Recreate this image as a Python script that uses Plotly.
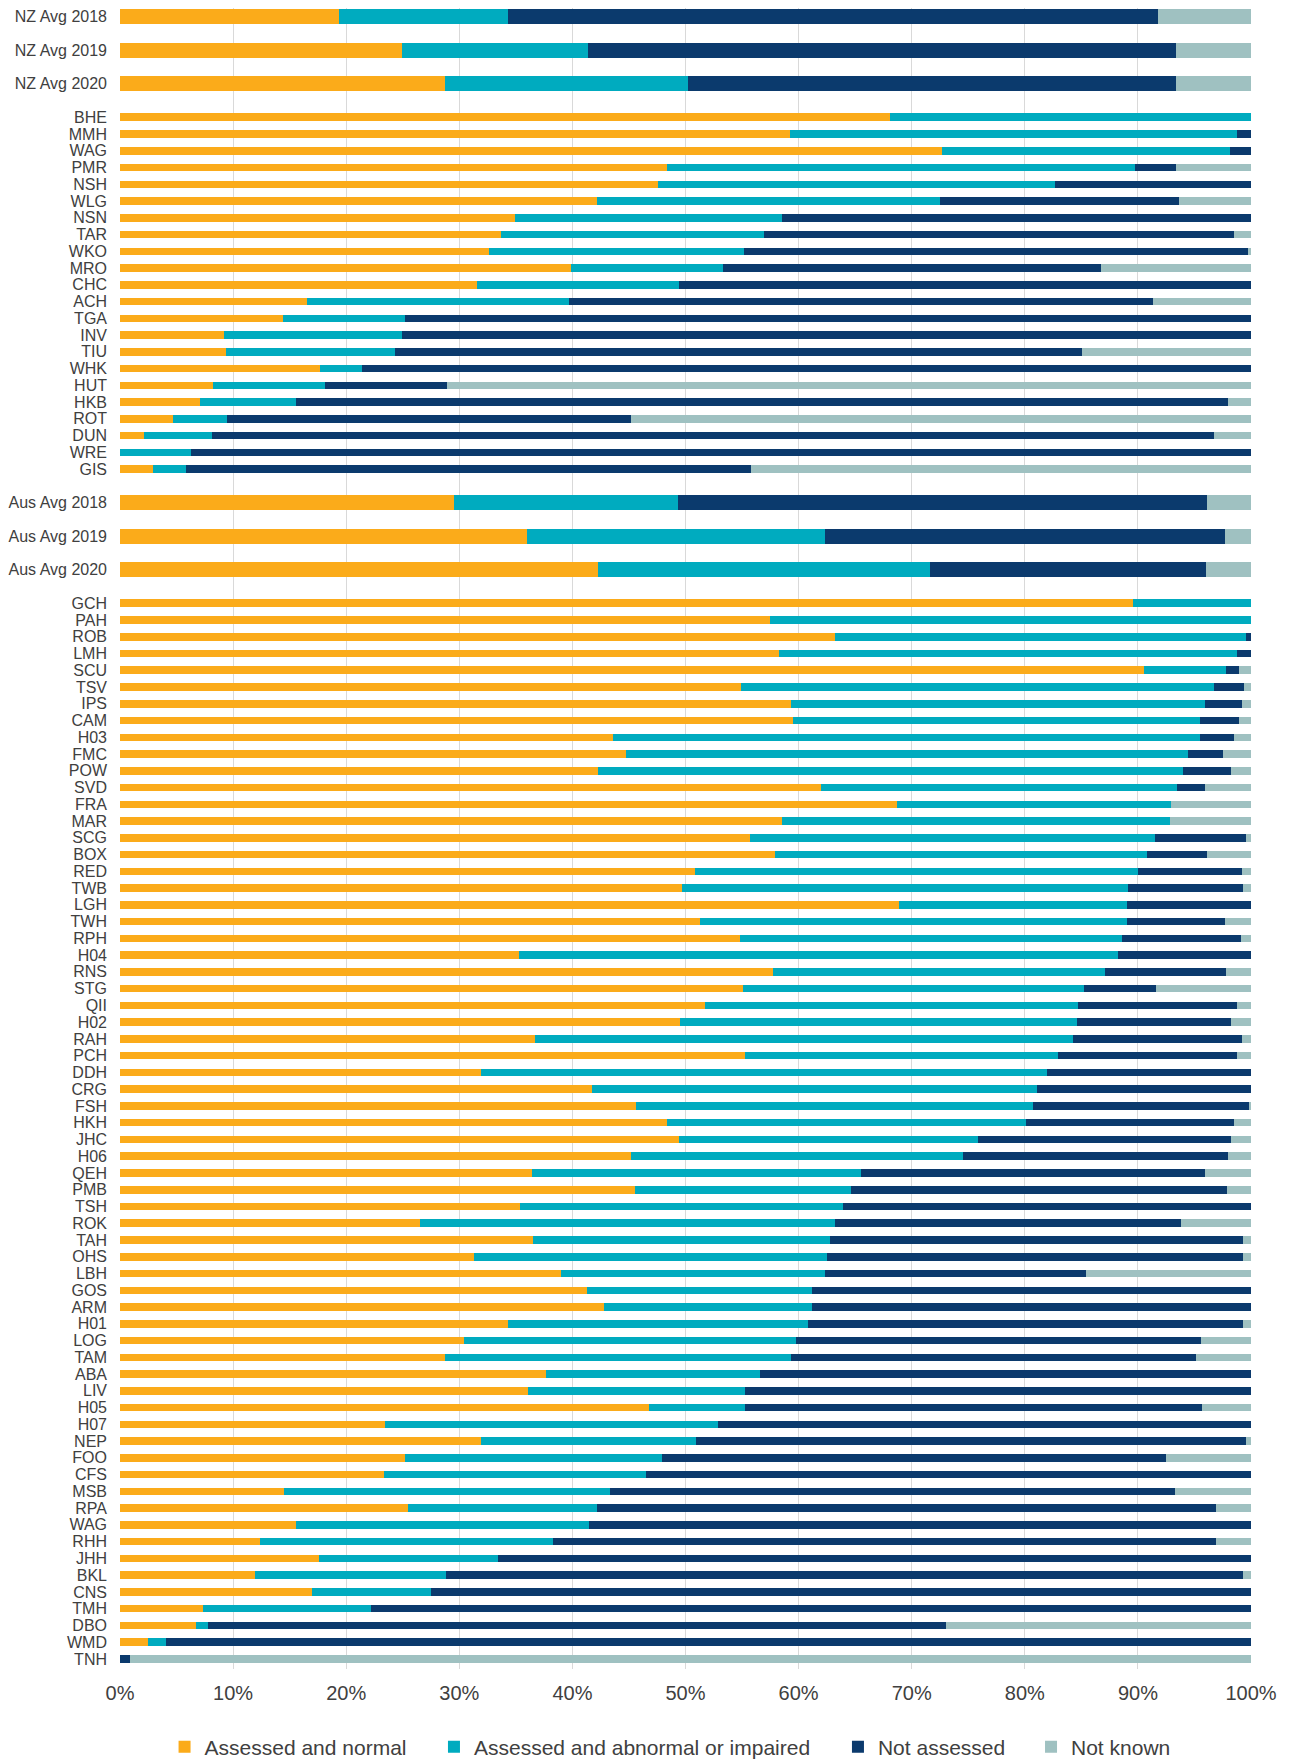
import plotly.graph_objects as go

# ---- data (percent of patients) ----
categories = [
    "NZ Avg 2018", "NZ Avg 2019", "NZ Avg 2020",
    "BHE", "MMH", "WAG", "PMR", "NSH", "WLG", "NSN", "TAR", "WKO", "MRO", "CHC",
    "ACH", "TGA", "INV", "TIU", "WHK", "HUT", "HKB", "ROT", "DUN", "WRE", "GIS",
    "Aus Avg 2018", "Aus Avg 2019", "Aus Avg 2020",
    "GCH", "PAH", "ROB", "LMH", "SCU", "TSV", "IPS", "CAM", "H03", "FMC", "POW",
    "SVD", "FRA", "MAR", "SCG", "BOX", "RED", "TWB", "LGH", "TWH", "RPH", "H04",
    "RNS", "STG", "QII", "H02", "RAH", "PCH", "DDH", "CRG", "FSH", "HKH", "JHC",
    "H06", "QEH", "PMB", "TSH", "ROK", "TAH", "OHS", "LBH", "GOS", "ARM", "H01",
    "LOG", "TAM", "ABA", "LIV", "H05", "H07", "NEP", "FOO", "CFS", "MSB", "RPA",
    "WAG", "RHH", "JHH", "BKL", "CNS", "TMH", "DBO", "WMD", "TNH",
]

assessed_normal = [
    19.4, 24.9, 28.7,
    68.1, 59.2, 72.7, 48.4, 47.6, 42.2, 34.9, 33.7, 32.6, 39.9, 31.6,
    16.5, 14.4, 9.2, 9.4, 17.7, 8.2, 7.1, 4.7, 2.1, 0.0, 2.9,
    29.5, 36.0, 42.3,
    89.6, 57.5, 63.2, 58.3, 90.5, 54.9, 59.3, 59.5, 43.6, 44.7, 42.3,
    62.0, 68.7, 58.5, 55.7, 57.9, 50.8, 49.7, 68.9, 51.3, 54.8, 35.3,
    57.7, 55.1, 51.7, 49.5, 36.7, 55.3, 31.9, 41.7, 45.6, 48.4, 49.4,
    45.2, 36.4, 45.5, 35.4, 26.5, 36.5, 31.3, 39.0, 41.3, 42.8, 34.3,
    30.4, 28.7, 37.7, 36.1, 46.8, 23.4, 31.9, 25.2, 23.3, 14.5, 25.5,
    15.6, 12.4, 17.6, 11.9, 17.0, 7.3, 6.7, 2.5, 0.0,
]

assessed_abnormal = [
    14.9, 16.5, 21.5,
    31.9, 39.6, 25.4, 41.3, 35.1, 30.3, 23.6, 23.2, 22.6, 13.4, 17.8,
    23.2, 10.8, 15.7, 14.9, 3.7, 9.9, 8.5, 4.8, 6.0, 6.3, 2.9,
    19.8, 26.3, 29.3,
    10.4, 42.5, 36.4, 40.5, 7.3, 41.8, 36.6, 36.0, 51.9, 49.7, 51.7,
    31.5, 24.2, 34.3, 35.8, 32.9, 39.2, 39.4, 20.1, 37.7, 33.8, 52.9,
    29.4, 30.1, 33.0, 35.1, 47.6, 27.6, 50.1, 39.4, 35.1, 31.7, 26.5,
    29.3, 29.1, 19.1, 28.5, 36.7, 26.3, 31.2, 23.3, 19.9, 18.4, 26.5,
    29.4, 30.6, 18.9, 19.2, 8.5, 29.5, 19.0, 22.7, 23.2, 28.8, 16.7,
    25.9, 25.9, 15.8, 16.9, 10.5, 14.9, 1.1, 1.6, 0.0,
]

not_assessed = [
    57.5, 52.0, 43.2,
    0.0, 1.2, 1.9, 3.7, 17.3, 21.1, 41.5, 41.6, 44.5, 33.4, 50.6,
    51.6, 74.8, 75.1, 60.8, 78.6, 10.8, 82.4, 35.7, 88.6, 93.7, 50.0,
    46.8, 35.4, 24.4,
    0.0, 0.0, 0.4, 1.2, 1.1, 2.7, 3.3, 3.4, 3.0, 3.1, 4.2,
    2.4, 0.0, 0.0, 8.1, 5.3, 9.2, 10.2, 11.0, 8.7, 10.5, 11.8,
    10.7, 6.4, 14.1, 13.6, 14.9, 15.9, 18.0, 18.9, 19.1, 18.4, 22.3,
    23.5, 30.4, 33.3, 36.1, 30.6, 36.5, 36.8, 23.1, 38.8, 38.8, 38.5,
    35.8, 35.8, 43.4, 44.7, 40.4, 47.1, 48.7, 44.6, 53.5, 50.0, 54.7,
    58.5, 58.6, 66.6, 70.5, 72.5, 77.8, 65.2, 95.9, 0.9,
]

not_known = [
    8.2, 6.6, 6.6,
    0.0, 0.0, 0.0, 6.6, 0.0, 6.4, 0.0, 1.5, 0.3, 13.3, 0.0,
    8.7, 0.0, 0.0, 14.9, 0.0, 71.1, 2.0, 54.8, 3.3, 0.0, 44.2,
    3.9, 2.3, 4.0,
    0.0, 0.0, 0.0, 0.0, 1.1, 0.6, 0.8, 1.1, 1.5, 2.5, 1.8,
    4.1, 7.1, 7.2, 0.4, 3.9, 0.8, 0.7, 0.0, 2.3, 0.9, 0.0,
    2.2, 8.4, 1.2, 1.8, 0.8, 1.2, 0.0, 0.0, 0.2, 1.5, 1.8,
    2.0, 4.1, 2.1, 0.0, 6.2, 0.7, 0.7, 14.6, 0.0, 0.0, 0.7,
    4.4, 4.9, 0.0, 0.0, 4.3, 0.0, 0.4, 7.5, 0.0, 6.7, 3.1,
    0.0, 3.1, 0.0, 0.7, 0.0, 0.0, 27.0, 0.0, 99.1,
]

series_names = ["Assessed and normal", "Assessed and abnormal or impaired",
                "Not assessed", "Not known"]
series_colors = ["#FBAB1A", "#00ABBF", "#0B3A6D", "#9FC1C1"]

x_tick_values = list(range(0, 101, 10))
x_tick_labels = [f"{v}%" for v in x_tick_values]

# ---- row positions: averages take double spacing and thicker bars ----
is_avg = ["Avg" in c for c in categories]
positions = []
pos = 0
for i, avg in enumerate(is_avg):
    if i > 0:
        pos += 2 if (avg or is_avg[i - 1]) else 1
    positions.append(pos)
widths = [0.88 if a else 0.45 for a in is_avg]

legend_ids = ["legend", "legend2", "legend3", "legend4"]
legend_x = [0.0394, 0.2776, 0.6348, 0.8055]

fig = go.Figure()
for name, vals, col, lid in zip(series_names,
                                [assessed_normal, assessed_abnormal, not_assessed, not_known],
                                series_colors, legend_ids):
    fig.add_trace(go.Bar(
        y=positions, x=vals, name=name, orientation="h",
        width=widths, marker=dict(color=col, line=dict(width=0)),
        legend=lid, showlegend=True,
    ))

FONT = "Liberation Sans, Arial, sans-serif"
legend_common = dict(orientation="h", y=-0.047, yanchor="middle", xanchor="left",
                     font=dict(size=21, color="#404040"), itemwidth=30,
                     bgcolor="rgba(0,0,0,0)", visible=True)

fig.update_layout(
    width=1282, height=1752,
    barmode="stack",
    showlegend=True,
    paper_bgcolor="white", plot_bgcolor="white",
    margin=dict(l=112, r=39, t=0, b=91, autoexpand=False),
    font=dict(family=FONT, color="#404040"),
    bargap=0,
    xaxis=dict(range=[0, 100], tickvals=x_tick_values, ticktext=x_tick_labels,
               showgrid=True, gridcolor="#D9D9D9", gridwidth=1,
               zeroline=False, showline=False,
               tickfont=dict(size=20, color="#404040"), ticklabelstandoff=10),
    yaxis=dict(range=[98.6, -0.52], tickvals=positions, ticktext=categories,
               showgrid=False, zeroline=False, showline=False,
               tickfont=dict(size=16, color="#404040"), ticklabelstandoff=12),
)
for lid, lx in zip(legend_ids, legend_x):
    fig.update_layout({lid: dict(legend_common, x=lx)})

fig.write_html("out.html")
